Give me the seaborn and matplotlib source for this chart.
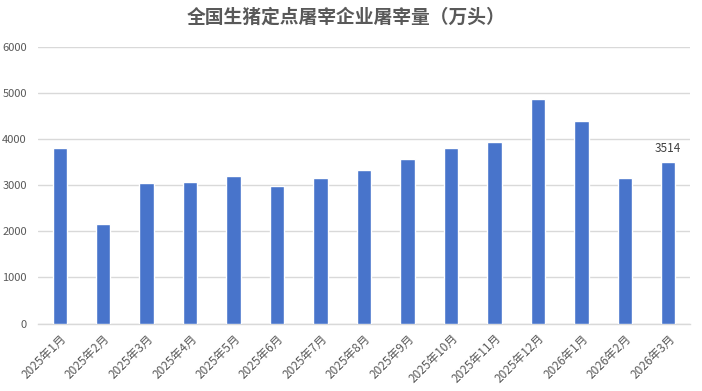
import pandas as pd
import matplotlib
matplotlib.use('Agg')
import matplotlib.pyplot as plt
import seaborn as sns

# 数据
months = ['2025年1月', '2025年2月', '2025年3月', '2025年4月', '2025年5月',
          '2025年6月', '2025年7月', '2025年8月', '2025年9月', '2025年10月',
          '2025年11月', '2025年12月', '2026年1月', '2026年2月', '2026年3月']
volumes = [3810, 2160, 3050, 3070, 3200, 2985, 3160, 3330, 3570, 3810,
           3940, 4875, 4400, 3160, 3514]

df = pd.DataFrame({'月份': months, '屠宰量': volumes})

sns.set_style('white')
plt.rcParams['font.family'] = ['Noto Sans CJK SC', 'DejaVu Sans']
plt.rcParams['axes.unicode_minus'] = False

fig = plt.figure(figsize=(7.02, 3.91), dpi=100)
ax = fig.add_axes([38 / 702, 1 - 323.5 / 391, 652 / 702, 276.5 / 391])

sns.barplot(data=df, x='月份', y='屠宰量', color='#4874CB', saturation=1,
            width=0.33, ax=ax, zorder=3)

ax.set_ylim(0, 6000)
ax.set_xlim(-0.5, len(months) - 0.5)
ax.set_yticks(range(0, 6001, 1000))
ax.grid(axis='y', color='#d9d9d9', linewidth=1, zorder=0)
ax.set_axisbelow(True)

for s in ['top', 'right', 'left']:
    ax.spines[s].set_visible(False)
ax.spines['bottom'].set_color('#d9d9d9')
ax.spines['bottom'].set_linewidth(1)

ax.set_xlabel('')
ax.set_ylabel('')
ax.tick_params(axis='y', length=0, labelsize=8, labelcolor='#595959', pad=8)
ax.set_xticks(range(len(months)))
ax.set_xticklabels(months, rotation=45, ha='right', rotation_mode='anchor',
                   fontsize=8.5, color='#595959')
ax.tick_params(axis='x', which='major', length=0, pad=6)
ax.set_xticks([i - 0.5 for i in range(len(months) + 1)], minor=True)
ax.tick_params(axis='x', which='minor', length=5, color='#d9d9d9', width=1)

# 最后一个月数据标签
ax.annotate(str(volumes[-1]), (len(months) - 1, volumes[-1]),
            xytext=(0, 5), textcoords='offset points', ha='center', va='bottom',
            fontsize=8.5, color='#404040')

fig.text(0.493, 0.955, '全国生猪定点屠宰企业屠宰量（万头）', ha='center', va='center',
         fontsize=13.5, fontweight='bold', color='#595959')

fig.savefig('out.png', dpi=100, facecolor='white')
